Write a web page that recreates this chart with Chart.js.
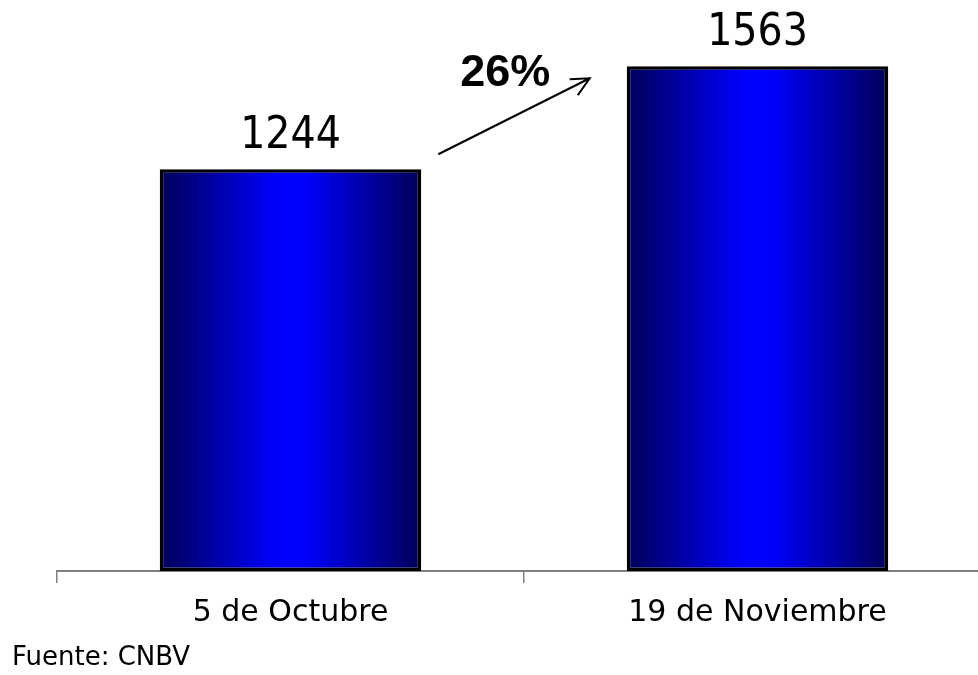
<!DOCTYPE html>
<html>
<head>
<meta charset="utf-8">
<script src="https://cdn.jsdelivr.net/npm/chart.js@4.4.1/dist/chart.umd.min.js"></script>
<style>
    html, body { margin: 0; padding: 0; background: #fff; overflow: hidden; }
    #wrap { position: relative; width: 978px; height: 675px; overflow: hidden; }
    #grafica { position: absolute; left: 0; top: 0; }
    #fuente { position: absolute; left: 12px; top: 641px; font-family: "DejaVu Sans", sans-serif; font-size: 26px; color: #000; }
</style>
</head>
<body>
<div id="wrap">
    <canvas id="grafica" width="1000" height="675"></canvas>
    <div id="fuente">Fuente: CNBV</div>
</div>
<script>
// Datos de la gráfica
const fechas = ['5 de Octubre', '19 de Noviembre'];
const valores = [1244, 1563];
const crecimiento = '26%';

const ctx = document.getElementById('grafica').getContext('2d');

// degradado horizontal de cada barra (oscuro en los bordes, azul al centro)
function degradado(context) {
    const chart = context.chart;
    const xs = chart.scales.x;
    if (!xs || !chart.chartArea) return '#0000ff';
    const c = xs.getPixelForValue(context.dataIndex);
    const w = xs.width / fechas.length * 0.56;
    const g = chart.ctx.createLinearGradient(c - w / 2, 0, c + w / 2, 0);
    g.addColorStop(0, '#000058');
    g.addColorStop(0.45, '#0000ff');
    g.addColorStop(0.55, '#0000ff');
    g.addColorStop(1, '#000058');
    return g;
}

// etiquetas de valor y flecha con el porcentaje
const etiquetas = {
    id: 'etiquetas',
    afterDatasetsDraw(chart) {
        const c = chart.ctx;
        const bars = chart.getDatasetMeta(0).data;
        c.save();
        c.fillStyle = '#000';
        c.textAlign = 'center';
        c.textBaseline = 'alphabetic';
        c.font = '44px "DejaVu Sans Condensed", "DejaVu Sans", sans-serif';
        bars.forEach((b, i) => {
            c.fillText(String(valores[i]), b.x, b.y - 21);
        });

        // flecha
        const b1 = bars[0], b2 = bars[1];
        const x0 = b1.x + b1.width / 2 + 17, y0 = b1.y - 15;
        const x1 = b2.x - b2.width / 2 - 37, y1 = b2.y + 12;
        c.strokeStyle = '#000';
        c.lineWidth = 2;
        c.beginPath();
        c.moveTo(x0, y0);
        c.lineTo(x1, y1);
        c.moveTo(x1 - 20, y1 + 1);
        c.lineTo(x1, y1);
        c.lineTo(x1 - 12, y1 + 17);
        c.stroke();

        c.font = 'bold 45px "Liberation Sans", Arial, sans-serif';
        c.textAlign = 'left';
        c.fillText(crecimiento, x0 + 22, y1 + 8);
        c.restore();
    }
};

new Chart(ctx, {
    type: 'bar',
    data: {
        labels: fechas,
        datasets: [{
            data: valores,
            backgroundColor: degradado,
            borderColor: '#000',
            borderWidth: 3.5,
            borderSkipped: false,
            barPercentage: 0.56,
            categoryPercentage: 1
        }]
    },
    options: {
        responsive: false,
        animation: false,
        layout: { padding: { left: 57, right: 9, top: 22, bottom: 32 } },
        plugins: {
            legend: { display: false },
            tooltip: { enabled: false }
        },
        scales: {
            x: {
                offset: true,
                grid: {
                    offset: true,
                    drawOnChartArea: false,
                    drawTicks: true,
                    tickLength: 12,
                    color: '#808080',
                    lineWidth: 1.5
                },
                border: { display: true, color: '#808080', width: 2 },
                ticks: {
                    color: '#000',
                    padding: 12,
                    font: { family: '"DejaVu Sans", sans-serif', size: 30 }
                }
            },
            y: {
                display: false,
                min: 0,
                max: 1700
            }
        }
    },
    plugins: [etiquetas]
});
</script>
</body>
</html>
